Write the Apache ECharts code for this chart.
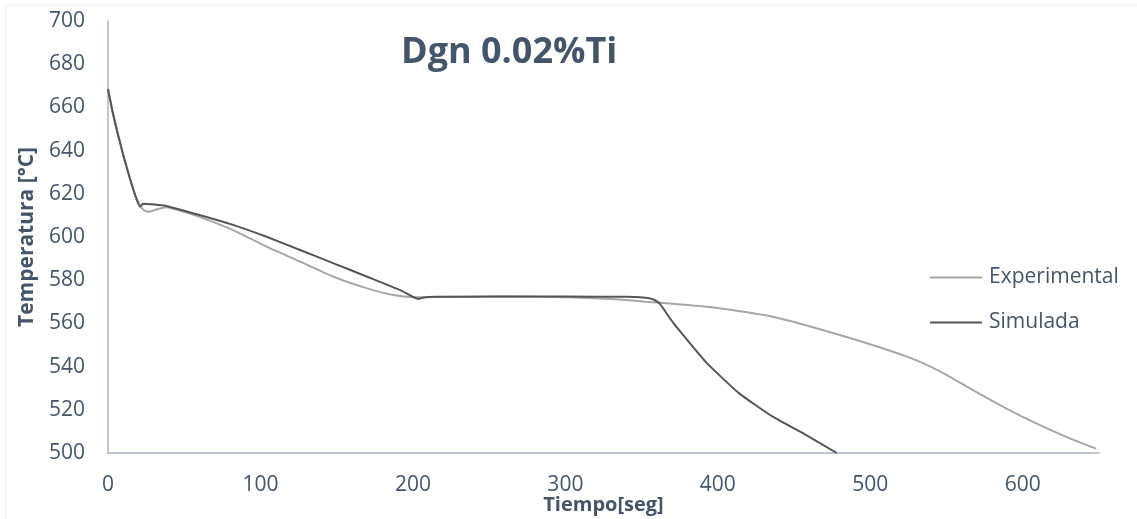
<!DOCTYPE html>
<html>
<head>
<meta charset="utf-8">
<script src="https://cdn.jsdelivr.net/npm/echarts@6/dist/echarts.min.js"></script>
<style>html,body{margin:0;padding:0;background:#fff}#c{width:1137px;height:519px}</style>
</head>
<body>
<div id="c"></div>
<script>
var titleText = 'Dgn 0.02%Ti';
var xName = 'Tiempo[seg]';
var yName = 'Temperatura [°C]';
var seriesNames = ['Experimental', 'Simulada'];

var experimental = [[0,668.5],[3,658],[6,649],[10,638],[14,628],[18,619],[21,614.5],[24,612.2],[27,611.7],[31,612.6],[38,613.8],[48,612],[60,609.3],[82,603.2],[104,595.5],[126,588.6],[148,581.6],[170,576.2],[187,573.1],[202,572.1],[230,572.3],[260,572.4],[300,572.1],[330,571.3],[349,570.3],[393,567.7],[436,563.1],[480,554.6],[524,544.6],[546,537.7],[567,529.2],[589,520.7],[611,513],[630,507],[648,502]];

var simulada = [[0,668.5],[3,658],[6,649],[10,638],[14,628],[18,619],[21,614],[23,615.4],[38,614.4],[60,610.2],[82,605.6],[104,600.1],[126,594],[148,587.8],[170,581.6],[192,575.3],[203.5,571.3],[207,572],[215,572.3],[250,572.4],[300,572.4],[340,572.3],[349,572.1],[355,571.6],[359,570.6],[362,569],[371,560],[393,541.5],[414,527.6],[436,516.8],[458,508.3],[478,500]];

var textColor = '#44546a';
var axisColor = '#aab4c6';
var font = 'Open Sans';

var chart = echarts.init(document.getElementById('c'), null, {renderer: 'canvas'});
chart.setOption({
  animation: false,
  backgroundColor: '#ffffff',
  textStyle: {fontFamily: font},
  title: {
    text: titleText,
    left: 396, top: 30,
    textStyle: {fontFamily: font, fontWeight: 'bold', fontSize: 36, color: textColor}
  },
  graphic: [{
    type: 'rect', silent: true,
    shape: {x: 5.5, y: 5.5, width: 1200, height: 600},
    style: {fill: 'none', stroke: '#eeeeee', lineWidth: 1}
  }],
  legend: {
    orient: 'vertical',
    left: 925, top: 262,
    icon: 'rect',
    itemWidth: 52, itemHeight: 2,
    itemGap: 24,
    textStyle: {fontFamily: font, fontSize: 21, color: textColor, padding: [0,0,0,2]},
    data: seriesNames
  },
  grid: {left: 108, right: 38, top: 21, bottom: 66, containLabel: false, outerBoundsMode: 'none'},
  xAxis: {
    type: 'value', min: 0, max: 650, interval: 100,
    name: xName, nameLocation: 'middle', nameGap: 42, nameMoveOverlap: false,
    nameTextStyle: {fontFamily: font, fontWeight: 'bold', fontSize: 20, color: textColor},
    axisLine: {show: true, lineStyle: {color: axisColor, width: 1.5}},
    axisTick: {show: false},
    splitLine: {show: false},
    axisLabel: {showMaxLabel: false, margin: 22, fontFamily: font, fontSize: 21, color: textColor}
  },
  yAxis: {
    type: 'value', min: 500, max: 700, interval: 20,
    name: yName, nameLocation: 'middle', nameGap: 70, nameMoveOverlap: false,
    nameTextStyle: {fontFamily: font, fontWeight: 'bold', fontSize: 21, color: textColor},
    axisLine: {show: true, lineStyle: {color: axisColor, width: 1.5}},
    axisTick: {show: false},
    splitLine: {show: false},
    axisLabel: {margin: 23, fontFamily: font, fontSize: 21, color: textColor}
  },
  series: [{
    name: seriesNames[0], type: 'line', data: experimental,
    showSymbol: false, smooth: 0.2,
    lineStyle: {color: '#a6a6a6', width: 2},
    itemStyle: {color: '#a6a6a6'}
  }, {
    name: seriesNames[1], type: 'line', data: simulada,
    showSymbol: false, smooth: 0.15,
    lineStyle: {color: '#555555', width: 2},
    itemStyle: {color: '#555555'}
  }]
});
</script>
</body>
</html>
